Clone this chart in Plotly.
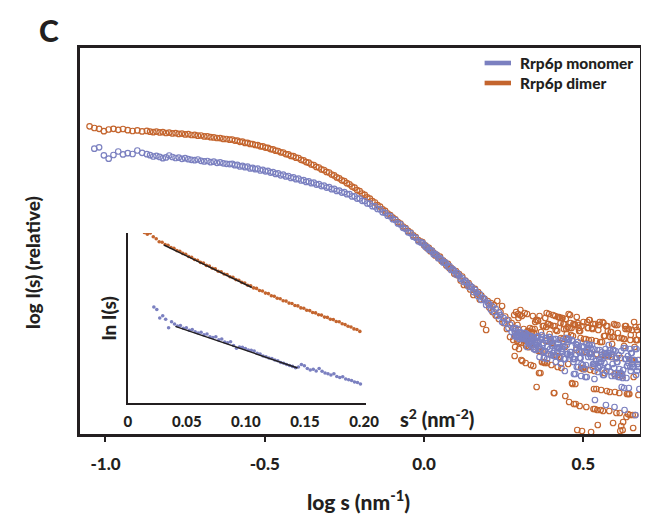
import plotly.graph_objects as go

# ---------------- main plot data: log s (nm^-1) vs log I(s) (relative) ----------------
log_s_a = [-1.050, -1.035, -1.020, -1.005, -0.990, -0.975, -0.960, -0.945, -0.930, -0.915,
           -0.900, -0.885, -0.870]
log_s_b = [-0.860, -0.850, -0.840, -0.830, -0.820, -0.810, -0.800, -0.790, -0.780, -0.770,
           -0.760, -0.750, -0.740, -0.730, -0.720, -0.710, -0.700, -0.690, -0.680, -0.670,
           -0.660, -0.650, -0.640, -0.630, -0.620, -0.610]
log_s_c = [-0.602, -0.594, -0.586, -0.578, -0.570, -0.562, -0.554, -0.546, -0.538, -0.530,
           -0.522, -0.514, -0.506, -0.498, -0.490, -0.482, -0.474, -0.466, -0.458, -0.450,
           -0.442, -0.434, -0.426, -0.418, -0.410, -0.402, -0.394, -0.386, -0.378, -0.370,
           -0.362, -0.354, -0.346, -0.338, -0.330, -0.322, -0.314, -0.306, -0.298, -0.290,
           -0.282, -0.274, -0.266, -0.258, -0.250, -0.242, -0.234, -0.226, -0.218, -0.210,
           -0.202, -0.194, -0.186, -0.178, -0.170, -0.162, -0.154, -0.146, -0.138, -0.130,
           -0.122, -0.114, -0.106, -0.098, -0.090, -0.082, -0.074, -0.066, -0.058, -0.050,
           -0.042, -0.034, -0.026, -0.018, -0.010]
log_s_d1 = [-0.005, 0.000, 0.005, 0.010, 0.015, 0.020, 0.025, 0.030, 0.035, 0.040,
            0.045, 0.050, 0.055, 0.060, 0.065, 0.070, 0.075, 0.080, 0.085, 0.090,
            0.095, 0.100, 0.105, 0.110, 0.115, 0.120, 0.125, 0.130, 0.135, 0.140,
            0.145, 0.150, 0.155, 0.160, 0.165, 0.170, 0.175, 0.180, 0.185, 0.190,
            0.195, 0.200, 0.205, 0.210, 0.215, 0.220, 0.225, 0.230, 0.235, 0.240,
            0.245, 0.250, 0.255, 0.260, 0.265, 0.270, 0.275, 0.280]
log_s_d2 = [0.283, 0.286, 0.289, 0.292, 0.295, 0.298, 0.301, 0.304, 0.307, 0.310,
            0.313, 0.316, 0.319, 0.322, 0.325, 0.328, 0.331, 0.334, 0.337, 0.340,
            0.343, 0.346, 0.349, 0.352, 0.355, 0.358, 0.361, 0.364, 0.367, 0.370,
            0.373, 0.376, 0.379, 0.382, 0.385, 0.388, 0.391, 0.394, 0.397, 0.400,
            0.403, 0.406, 0.409, 0.412, 0.415, 0.418, 0.421, 0.424, 0.427, 0.430,
            0.433, 0.436, 0.439, 0.442, 0.445, 0.448, 0.451, 0.454, 0.457, 0.460,
            0.463, 0.466, 0.469, 0.472, 0.475, 0.478, 0.481, 0.484, 0.487, 0.490,
            0.493, 0.496, 0.499, 0.502, 0.505, 0.508, 0.511, 0.514, 0.517, 0.520,
            0.523, 0.526, 0.529, 0.532, 0.535, 0.538, 0.541, 0.544, 0.547, 0.550,
            0.553, 0.556, 0.559, 0.562, 0.565, 0.568, 0.571, 0.574, 0.577, 0.580,
            0.583, 0.586, 0.589, 0.592, 0.595, 0.598, 0.601, 0.604, 0.607, 0.610,
            0.613, 0.616, 0.619, 0.622, 0.625, 0.628, 0.631, 0.634, 0.637, 0.640,
            0.643, 0.646, 0.649, 0.652, 0.655, 0.658, 0.661, 0.664, 0.667, 0.670,
            0.673, 0.676]
log_s_d3 = [0.2845, 0.2875, 0.2905, 0.2935, 0.2965, 0.2995, 0.3025, 0.3055, 0.3085, 0.3115,
            0.3145, 0.3175, 0.3205, 0.3235, 0.3265, 0.3295, 0.3325, 0.3355, 0.3385, 0.3415,
            0.3445, 0.3475, 0.3505, 0.3535, 0.3565, 0.3595, 0.3625, 0.3655, 0.3685, 0.3715,
            0.3745, 0.3775, 0.3805, 0.3835, 0.3865, 0.3895, 0.3925, 0.3955, 0.3985, 0.4015,
            0.4045, 0.4075, 0.4105, 0.4135, 0.4165, 0.4195, 0.4225, 0.4255, 0.4285, 0.4315,
            0.4345, 0.4375, 0.4405, 0.4435, 0.4465, 0.4495, 0.4525, 0.4555, 0.4585, 0.4615,
            0.4645, 0.4675, 0.4705, 0.4735, 0.4765, 0.4795, 0.4825, 0.4855, 0.4885, 0.4915,
            0.4945, 0.4975, 0.5005, 0.5035, 0.5065, 0.5095, 0.5125, 0.5155, 0.5185, 0.5215,
            0.5245, 0.5275, 0.5305, 0.5335, 0.5365, 0.5395, 0.5425, 0.5455, 0.5485, 0.5515,
            0.5545, 0.5575, 0.5605, 0.5635, 0.5665, 0.5695, 0.5725, 0.5755, 0.5785, 0.5815,
            0.5845, 0.5875, 0.5905, 0.5935, 0.5965, 0.5995, 0.6025, 0.6055, 0.6085, 0.6115,
            0.6145, 0.6175, 0.6205, 0.6235, 0.6265, 0.6295, 0.6325, 0.6355, 0.6385, 0.6415,
            0.6445, 0.6475, 0.6505, 0.6535, 0.6565, 0.6595, 0.6625, 0.6655, 0.6685, 0.6715,
            0.6745]

dimer_a = [3.087, 3.070, 3.062, 3.038, 3.055, 3.062, 3.052, 3.060, 3.048, 3.040,
           3.046, 3.036, 3.041]
dimer_b = [3.033, 3.028, 3.034, 3.026, 3.029, 3.020, 3.024, 3.016, 3.019, 3.011,
           3.014, 3.006, 3.008, 3.000, 3.001, 2.993, 2.995, 2.986, 2.986, 2.978,
           2.976, 2.970, 2.969, 2.961, 2.960, 2.953]
dimer_c = [2.955, 2.944, 2.943, 2.932, 2.933, 2.921, 2.922, 2.911, 2.910, 2.900,
           2.898, 2.887, 2.886, 2.874, 2.872, 2.859, 2.856, 2.843, 2.840, 2.827,
           2.825, 2.809, 2.806, 2.791, 2.788, 2.773, 2.770, 2.752, 2.746, 2.729,
           2.723, 2.705, 2.700, 2.681, 2.675, 2.656, 2.650, 2.631, 2.625, 2.605,
           2.596, 2.576, 2.567, 2.547, 2.539, 2.518, 2.507, 2.484, 2.473, 2.449,
           2.438, 2.415, 2.402, 2.377, 2.363, 2.338, 2.325, 2.299, 2.284, 2.257,
           2.242, 2.215, 2.200, 2.173, 2.157, 2.129, 2.113, 2.085, 2.069, 2.041,
           2.024, 1.996, 1.979, 1.950, 1.933]
dimer_d1 = [1.930, 1.898, 1.895, 1.868, 1.871, 1.838, 1.845, 1.822, 1.795, 1.802,
            1.770, 1.784, 1.740, 1.745, 1.728, 1.695, 1.712, 1.668, 1.672, 1.655,
            1.612, 1.640, 1.598, 1.610, 1.545, 1.585, 1.500, 1.545, 1.498, 1.520,
            1.455, 1.480, 1.400, 1.462, 1.410, 1.430, 1.355, 1.395, 1.110, 1.362,
            1.050, 1.340, 1.275, 1.320, 1.230, 1.300, 1.195, 1.340, 1.160, 1.230,
            1.290, 1.120, 1.185, 1.060, 1.150, 0.980, 1.120, 0.950]
dimer_d2 = [1.20, 0.88, 1.23, 0.94, 1.21, 0.86, 1.20, 0.92, 1.19, 1.01,
            1.06, 1.22, 0.72, 0.99, 1.04, 0.88, 0.92, 1.03, 0.92, 1.06,
            0.69, 0.86, 1.13, 1.15, 0.97, 1.14, 0.62, 0.84, 1.03, 0.73,
            1.09, 1.09, 0.72, 0.94, 1.22, 1.11, 1.11, 1.01, 1.10, 0.70,
            0.92, 1.09, 0.42, 1.19, 0.79, 1.04, 1.18, 1.18, 1.17, 0.97,
            1.17, 0.96, 1.06, 0.88, 1.16, 1.01, 1.08, 1.21, 1.07, 1.12,
            1.07, 0.51, 1.11, 1.11, 0.51, 0.85, 0.05, 1.10, 1.04, 1.04,
            0.67, 0.04, 0.66, 0.96, 0.66, 0.96, 0.83, 1.07, 0.95, 1.15,
            0.82, 0.95, 1.06, 0.26, 0.64, 1.11, 0.46, 0.25, 1.05, 1.10,
            0.93, 0.45, 0.93, 0.24, 0.99, 0.99, 0.79, 0.44, 1.04, 0.79,
            0.43, 1.03, 0.78, 0.98, 0.98, 0.61, 1.10, 0.22, 1.10, 0.60,
            0.42, 0.04, 0.09, 0.59, 0.13, 0.89, 1.09, 1.09, 0.41, 0.21,
            1.06, 0.20, 1.00, 0.75, 0.20, 0.58, 0.88, 1.08, 0.95, 0.95,
            0.40, 1.08]
dimer_d3 = [0.79, 1.06, 1.00, 1.10, 1.17, 0.93, 1.25, 0.75, 0.74, 0.95,
            0.95, 1.00, 0.89, 1.21, 1.04, 0.88, 1.07, 0.70, 1.03, 1.19,
            1.02, 1.06, 0.90, 0.48, 1.15, 0.84, 1.19, 0.62, 0.83, 0.73,
            0.83, 0.73, 1.17, 1.08, 0.72, 1.11, 1.21, 0.93, 0.80, 0.92,
            1.20, 0.42, 1.09, 1.05, 0.79, 0.68, 0.78, 0.78, 1.12, 0.67,
            1.17, 1.11, 1.11, 0.39, 1.06, 0.95, 0.71, 0.33, 1.20, 1.00,
            0.52, 0.99, 0.31, 1.10, 0.31, 1.18, 1.12, 1.07, 0.29, 0.97,
            1.09, 0.67, 1.13, 0.66, 0.83, 0.28, 1.13, 1.07, 1.15, 0.65,
            0.03, 1.07, 1.11, 0.46, 0.26, 0.94, 0.81, 0.10, 1.10, 1.13,
            0.25, 0.80, 1.13, 1.12, 0.62, 0.79, 1.09, 1.09, 0.79, 0.24,
            0.98, 1.03, 0.91, 0.12, 1.11, 0.43, 0.77, 0.77, 1.02, 0.97,
            0.22, 0.77, 0.97, 0.05, 0.96, 0.96, 1.06, 0.18, 1.06, 0.41,
            0.41, 0.95, 0.75, 1.05, 0.07, 1.13, 0.20, 0.95, 1.05, 0.75,
            1.00]

monomer_a = [None, 2.863, 2.877, 2.797, 2.763, 2.800, 2.835, 2.806, 2.818, 2.810,
             2.845, 2.822, 2.808]
monomer_b = [2.798, 2.785, 2.792, 2.781, 2.768, 2.776, 2.795, 2.780, 2.770, 2.774,
             2.762, 2.768, 2.758, 2.752, 2.748, 2.755, 2.742, 2.736, 2.740, 2.728,
             2.733, 2.722, 2.726, 2.717, 2.712, 2.709]
monomer_c = [2.712, 2.698, 2.701, 2.686, 2.692, 2.678, 2.684, 2.666, 2.671, 2.658,
             2.663, 2.645, 2.652, 2.637, 2.641, 2.624, 2.628, 2.611, 2.616, 2.597,
             2.604, 2.586, 2.590, 2.571, 2.576, 2.558, 2.563, 2.545, 2.548, 2.531,
             2.536, 2.518, 2.523, 2.504, 2.508, 2.489, 2.493, 2.474, 2.478, 2.458,
             2.461, 2.441, 2.444, 2.424, 2.428, 2.408, 2.409, 2.386, 2.387, 2.364,
             2.365, 2.342, 2.340, 2.315, 2.313, 2.288, 2.286, 2.260, 2.257, 2.227,
             2.222, 2.193, 2.188, 2.158, 2.150, 2.116, 2.106, 2.072, 2.062, 2.027,
             2.018, 1.983, 1.972, 1.937, 1.926]
monomer_d1 = [1.922, 1.905, 1.881, 1.879, 1.852, 1.850, 1.838, 1.808, 1.812, 1.797,
              1.768, 1.770, 1.755, 1.724, 1.728, 1.714, 1.682, 1.690, 1.650, 1.658,
              1.641, 1.605, 1.618, 1.595, 1.562, 1.570, 1.531, 1.540, 1.522, 1.482,
              1.495, 1.476, 1.430, 1.452, 1.425, 1.388, 1.410, 1.350, 1.372, 1.355,
              1.300, 1.322, 1.310, 1.252, 1.285, 1.230, 1.262, 1.190, 1.225, 1.198,
              1.130, 1.170, 1.118, 1.150, 1.070, 1.105, 1.030, 1.068]
monomer_d2 = [0.99, 1.02, 0.98, 1.02, 1.06, 0.98, 1.02, 1.00, 0.97, 0.98,
              1.02, 1.02, 1.00, 1.01, 0.94, 0.93, 0.93, 0.99, 0.94, 0.96,
              0.88, 0.97, 0.92, 0.90, 0.90, 0.99, 0.89, 0.86, 0.96, 1.00,
              0.92, 0.77, 0.84, 0.97, 0.97, 0.88, 0.81, 0.98, 0.93, 0.80,
              0.91, 0.96, 0.84, 0.96, 0.96, 0.83, 0.91, 0.87, 0.77, 0.71,
              0.86, 0.94, 0.76, 0.64, 0.97, 0.90, 0.81, 0.96, 0.80, 0.80,
              0.83, 0.94, 0.73, 0.76, 0.61, 0.87, 0.90, 0.68, 0.83, 0.77,
              0.59, 0.83, 0.70, 0.88, 0.82, 0.70, 0.58, 0.87, 0.90, 0.90,
              0.87, 0.81, 0.68, 0.86, 0.56, 0.71, 0.74, 0.85, 0.67, 0.76,
              0.69, 0.73, 0.65, 0.60, 0.60, 0.82, 0.30, 0.79, 0.82, 0.90,
              0.85, 0.63, 0.59, 0.71, 0.85, 0.28, 0.84, 0.77, 0.73, 0.58,
              0.66, 0.62, 0.84, 0.61, 0.65, 0.47, 0.76, 0.76, 0.69, 0.79,
              0.47, 0.86, 0.64, 0.82, 0.68, 0.68, 0.75, 0.20, 0.86, 0.71,
              0.71, 0.46]
monomer_d3 = [1.04, 1.07, 1.00, 0.99, 0.99, 0.96, 1.03, 0.97, 0.99, 0.96,
              0.98, 1.02, 0.96, 0.88, 1.00, 0.91, 0.92, 0.99, 0.94, 0.98,
              0.86, 0.86, 0.85, 0.98, 0.92, 0.93, 0.78, 0.86, 0.98, 0.90,
              0.83, 0.77, 0.84, 0.95, 0.76, 0.81, 0.98, 0.86, 0.95, 0.89,
              0.82, 0.79, 0.79, 0.73, 0.88, 0.87, 0.87, 0.95, 0.88, 0.84,
              0.83, 0.88, 0.76, 0.76, 0.97, 0.81, 0.93, 0.96, 0.83, 0.80,
              0.95, 0.76, 0.61, 0.76, 0.91, 0.68, 0.93, 0.84, 0.77, 0.77,
              0.71, 0.89, 0.88, 0.66, 0.58, 0.91, 0.85, 0.78, 0.81, 0.81,
              0.78, 0.90, 0.71, 0.71, 0.35, 0.74, 0.80, 0.63, 0.67, 0.85,
              0.73, 0.83, 0.76, 0.79, 0.72, 0.86, 0.64, 0.68, 0.68, 0.82,
              0.85, 0.78, 0.81, 0.85, 0.67, 0.59, 0.77, 0.73, 0.62, 0.80,
              0.58, 0.62, 0.48, 0.57, 0.87, 0.25, 0.87, 0.57, 0.69, 0.72,
              0.76, 0.68, 0.82, 0.71, 0.75, 0.75, 0.86, 0.60, 0.64, 0.68,
              0.75]

# ---------------- inset data: s^2 (nm^-2) vs ln I(s) (arbitrary offset) ----------------
inset_s2_dimer = [0.0140, 0.0165, 0.0190, 0.0215, 0.0240, 0.0265, 0.0290, 0.0315, 0.0340, 0.0365,
                  0.0390, 0.0415, 0.0440, 0.0465, 0.0490, 0.0515, 0.0540, 0.0565, 0.0590, 0.0615,
                  0.0640, 0.0665, 0.0690, 0.0715, 0.0740, 0.0765, 0.0790, 0.0815, 0.0840, 0.0865,
                  0.0890, 0.0915, 0.0940, 0.0965, 0.0990, 0.1015, 0.1040, 0.1065, 0.1090, 0.1115,
                  0.1140, 0.1165, 0.1190, 0.1215, 0.1240, 0.1265, 0.1290, 0.1315, 0.1340, 0.1365,
                  0.1390, 0.1415, 0.1440, 0.1465, 0.1490, 0.1515, 0.1540, 0.1565, 0.1590, 0.1615,
                  0.1640, 0.1665, 0.1690, 0.1715, 0.1740, 0.1765, 0.1790, 0.1815, 0.1840, 0.1865,
                  0.1890, 0.1915, 0.1940, 0.1965]
inset_lnI_dimer = [1.705, 1.688, 1.700, 1.662, 1.642, 1.612, 1.608, 1.585, 1.578, 1.555,
                   1.548, 1.524, 1.518, 1.496, 1.488, 1.465, 1.458, 1.435, 1.428, 1.406,
                   1.399, 1.376, 1.370, 1.347, 1.341, 1.318, 1.312, 1.290, 1.284, 1.262,
                   1.256, 1.234, 1.228, 1.206, 1.200, 1.178, 1.173, 1.151, 1.146, 1.125,
                   1.120, 1.099, 1.094, 1.073, 1.068, 1.048, 1.043, 1.023, 1.019, 0.999,
                   0.995, 0.975, 0.971, 0.951, 0.948, 0.928, 0.924, 0.905, 0.901, 0.882,
                   0.879, 0.859, 0.856, 0.837, 0.834, 0.815, 0.812, 0.793, 0.784, 0.768,
                   0.760, 0.741, 0.735, 0.716]
inset_s2_monomer = [0.0220, 0.0245, 0.0270, 0.0295, 0.0320, 0.0345, 0.0370, 0.0395, 0.0420, 0.0445,
                    0.0470, 0.0495, 0.0520, 0.0545, 0.0570, 0.0595, 0.0620, 0.0645, 0.0670, 0.0695,
                    0.0720, 0.0745, 0.0770, 0.0795, 0.0820, 0.0845, 0.0870, 0.0895, 0.0920, 0.0945,
                    0.0970, 0.0995, 0.1020, 0.1045, 0.1070, 0.1095, 0.1120, 0.1145, 0.1170, 0.1195,
                    0.1220, 0.1245, 0.1270, 0.1295, 0.1320, 0.1345, 0.1370, 0.1395, 0.1420, 0.1445,
                    0.1470, 0.1495, 0.1520, 0.1545, 0.1570, 0.1595, 0.1620, 0.1645, 0.1670, 0.1695,
                    0.1720, 0.1745, 0.1770, 0.1795, 0.1820, 0.1845, 0.1870, 0.1895, 0.1920, 0.1945,
                    0.1970]
inset_lnI_monomer = [0.960, 0.935, 0.850, 0.872, 0.838, 0.752, 0.812, 0.790, 0.770, 0.775,
                     0.748, 0.752, 0.728, 0.735, 0.712, 0.700, 0.708, 0.681, 0.690, 0.663,
                     0.655, 0.662, 0.631, 0.640, 0.610, 0.602, 0.612, 0.575, 0.548, 0.560,
                     0.556, 0.545, 0.530, 0.528, 0.520, 0.498, 0.490, 0.470, 0.462, 0.450,
                     0.445, 0.430, 0.422, 0.405, 0.398, 0.385, 0.375, 0.366, 0.352, 0.360,
                     0.385, 0.372, 0.345, 0.330, 0.338, 0.320, 0.345, 0.318, 0.300, 0.292,
                     0.280, 0.292, 0.265, 0.255, 0.262, 0.240, 0.232, 0.225, 0.210, 0.205,
                     0.190]
# Guinier fits
fit_s2_dimer = [0.0305, 0.105]
fit_lnI_dimer = [1.580, 1.155]
fit_s2_monomer = [0.0402, 0.1437]
fit_lnI_monomer = [0.767, 0.350]

series_names = ["Rrp6p monomer", "Rrp6p dimer"]
main_ticks = [-1.0, -0.5, 0.0, 0.5]
main_ticktext = ["-1.0", "-0.5", "0.0", "0.5"]
inset_ticks = [0, 0.05, 0.10, 0.15, 0.20]
inset_ticktext = ["0", "0.05", "0.10", "0.15", "0.20"]

log_s = log_s_a + log_s_b + log_s_c + log_s_d1 + log_s_d2 + log_s_d3
dimer_logI = dimer_a + dimer_b + dimer_c + dimer_d1 + dimer_d2 + dimer_d3
monomer_logI = monomer_a + monomer_b + monomer_c + monomer_d1 + monomer_d2 + monomer_d3
assert len(log_s) == len(dimer_logI) == len(monomer_logI), (len(log_s), len(dimer_logI), len(monomer_logI))
assert len(inset_s2_dimer) == len(inset_lnI_dimer)
assert len(inset_s2_monomer) == len(inset_lnI_monomer)

BLUE = "#7b80c0"
ORANGE = "#c4652e"
INK = "#231f20"
FONT = "Lato"
W = 900

fig = go.Figure()
fig.add_trace(go.Scatter(x=log_s, y=dimer_logI, mode="markers", showlegend=False,
                         marker=dict(symbol="circle-open", size=5.5, color=ORANGE, line=dict(width=1.2))))
fig.add_trace(go.Scatter(x=log_s, y=monomer_logI, mode="markers", showlegend=False,
                         marker=dict(symbol="circle-open", size=5.5, color=BLUE, line=dict(width=1.2))))

fig.add_trace(go.Scatter(x=inset_s2_dimer, y=inset_lnI_dimer, xaxis="x2", yaxis="y2", mode="markers",
                         showlegend=False, marker=dict(size=3.6, color=ORANGE)))
fig.add_trace(go.Scatter(x=inset_s2_monomer, y=inset_lnI_monomer, xaxis="x2", yaxis="y2", mode="markers",
                         showlegend=False, marker=dict(size=3.6, color=BLUE)))
fig.add_trace(go.Scatter(x=fit_s2_dimer, y=fit_lnI_dimer, xaxis="x2", yaxis="y2", mode="lines",
                         showlegend=False, line=dict(color=INK, width=1.4)))
fig.add_trace(go.Scatter(x=fit_s2_monomer, y=fit_lnI_monomer, xaxis="x2", yaxis="y2", mode="lines",
                         showlegend=False, line=dict(color=INK, width=1.4)))

# plot area in pixels: x 72..645, y 40..426
def px(xp):
    return (xp - 72) / 573.0

def py(yp):
    return (426 - yp) / 386.0

legend_shapes = []
legend_notes = []
for name, color, yrow in [(series_names[0], BLUE, 55), (series_names[1], ORANGE, 75)]:
    legend_shapes.append(dict(type="rect", xref="paper", yref="paper",
                              x0=px(486), x1=px(513), y0=py(yrow + 2.3), y1=py(yrow - 2.3),
                              fillcolor=color, line=dict(width=0)))
    legend_notes.append(dict(text=name, x=px(520), y=py(yrow), xref="paper", yref="paper",
                             showarrow=False, xanchor="left", yanchor="middle",
                             font=dict(size=15.5, family=FONT, color=INK, weight=W)))

fig.update_layout(
    width=649, height=514,
    margin=dict(l=72, r=4, t=40, b=88),
    paper_bgcolor="white", plot_bgcolor="white",
    font=dict(family=FONT, color=INK),
    showlegend=False,
    xaxis=dict(range=[-1.080, 0.678], tickvals=main_ticks, ticktext=main_ticktext,
               ticks="outside", ticklen=5, tickwidth=2, tickcolor=INK,
               showline=True, linewidth=2.5, linecolor=INK, mirror=True,
               showgrid=False, zeroline=False, ticklabelstandoff=8,
               tickfont=dict(family=FONT, size=17, color=INK, weight=W)),
    yaxis=dict(range=[0.01, 3.87], showticklabels=False, ticks="",
               showline=True, linewidth=2.5, linecolor=INK, mirror=True,
               showgrid=False, zeroline=False),
    xaxis2=dict(domain=[px(121), px(365)], anchor="y2", range=[0, 0.202],
                tickvals=inset_ticks, ticktext=inset_ticktext, ticks="",
                showline=True, linewidth=2, linecolor=INK, showgrid=False, zeroline=False,
                ticklabelstandoff=4,
                tickfont=dict(family=FONT, size=15, color=INK, weight=W)),
    yaxis2=dict(domain=[py(395), py(225)], anchor="x2", range=[0, 1.70],
                showticklabels=False, ticks="", showline=True, linewidth=2, linecolor=INK,
                showgrid=False, zeroline=False),
    shapes=legend_shapes,
    annotations=legend_notes + [
        dict(text="C", x=px(40), y=py(22), xref="paper", yref="paper", showarrow=False,
             xanchor="center", yanchor="middle", font=dict(size=30, family=FONT, color=INK, weight=W)),
        dict(text="log I(s) (relative)", x=px(23), y=py(255), xref="paper", yref="paper",
             showarrow=False, textangle=-90, xanchor="center", yanchor="middle",
             font=dict(size=19, family=FONT, color=INK, weight=W)),
        dict(text="log s (nm<sup>-1</sup>)", x=px(357), y=py(492), xref="paper", yref="paper",
             showarrow=False, xanchor="center", yanchor="middle",
             font=dict(size=21, family=FONT, color=INK, weight=W)),
        dict(text="ln I(s)", x=px(101), y=py(310), xref="paper", yref="paper",
             showarrow=False, textangle=-90, xanchor="center", yanchor="middle",
             font=dict(size=19, family=FONT, color=INK, weight=W)),
        dict(text="s<sup>2</sup> (nm<sup>-2</sup>)", x=px(437), y=py(410), xref="paper", yref="paper",
             showarrow=False, xanchor="center", yanchor="middle",
             font=dict(size=20, family=FONT, color=INK, weight=W)),
    ],
)

fig.write_html("out.html")
